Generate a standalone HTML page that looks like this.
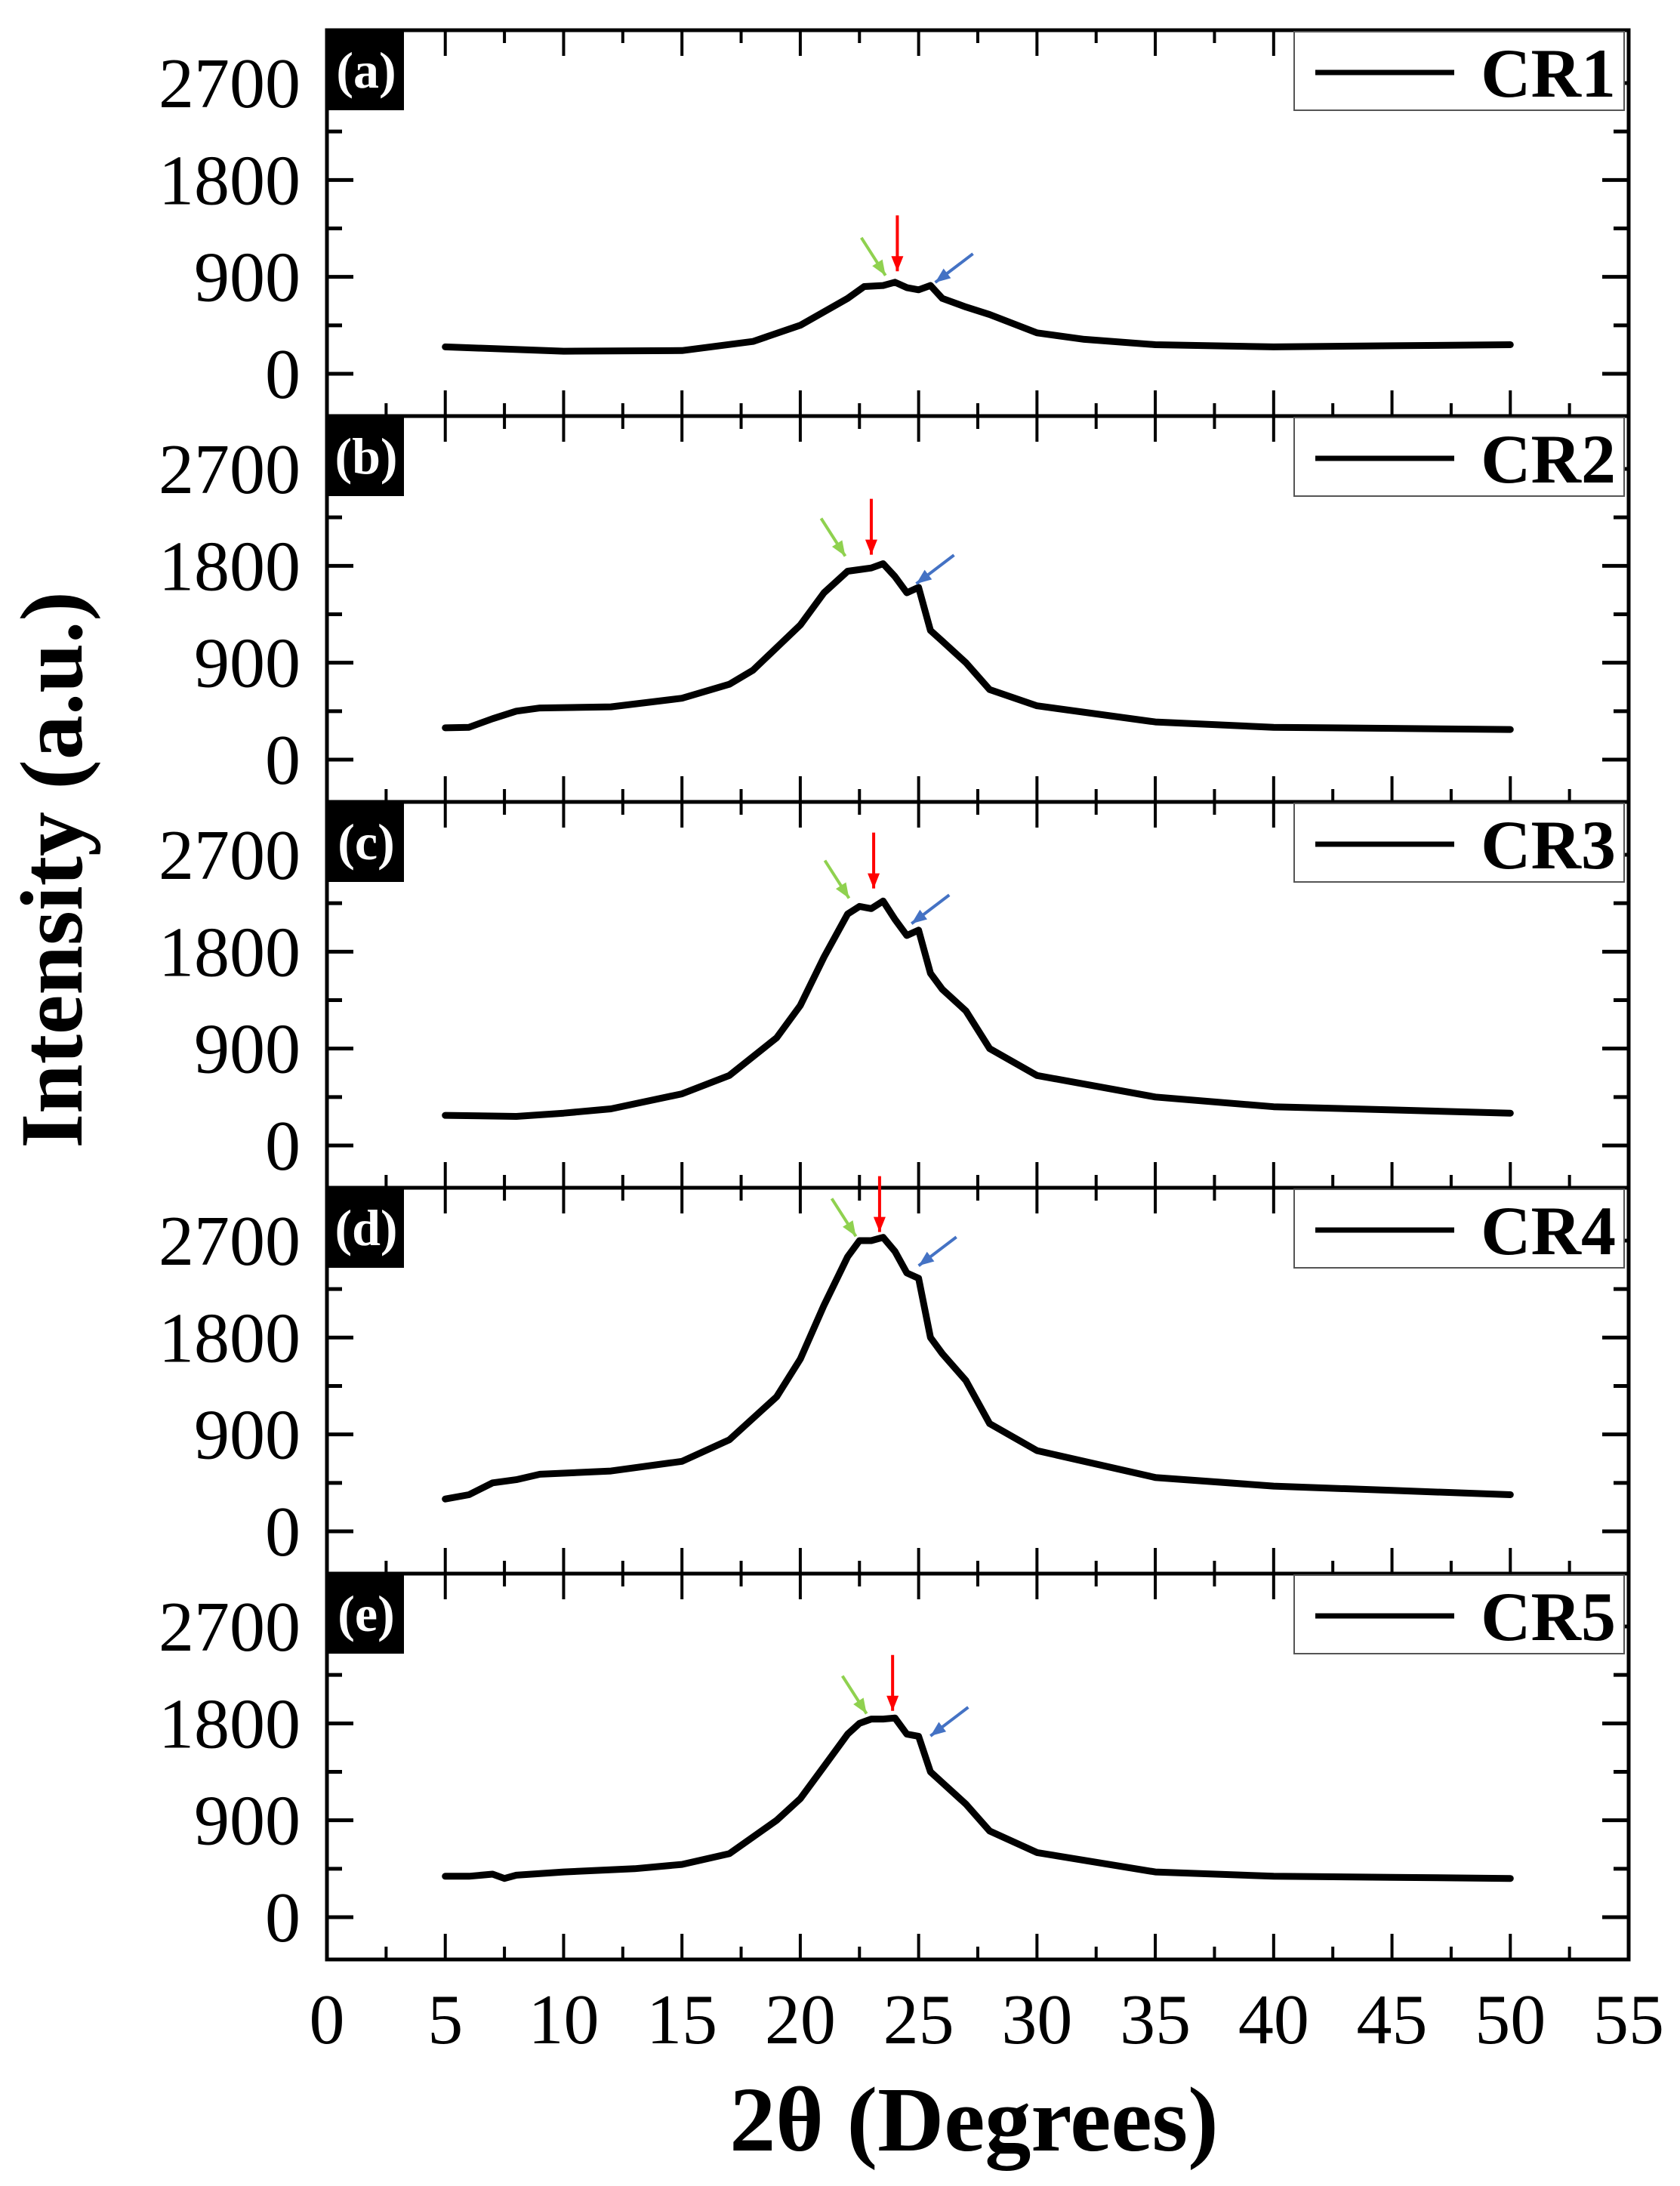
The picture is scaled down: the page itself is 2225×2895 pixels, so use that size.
<!DOCTYPE html>
<html><head><meta charset="utf-8"><style>
html,body{margin:0;padding:0;background:#fff;}
svg{display:block;}
text{font-family:"Liberation Serif",serif;}
</style></head>
<body>
<svg id="chart" width="2225" height="2895" viewBox="0 0 2225 2895" xmlns="http://www.w3.org/2000/svg">
<rect x="0" y="0" width="2225" height="2895" fill="#fff"/>
<text x="0" y="0" transform="translate(108,1152) rotate(-90)" text-anchor="middle" font-size="118" font-weight="bold">Intensity (a.u.)</text>
<text x="1290" y="2848" text-anchor="middle" font-size="122" font-weight="bold">2θ (Degrees)</text>
</svg>
<script>
const NS="http://www.w3.org/2000/svg";
const svg=document.getElementById('chart');
const sampleNames=["CR1","CR2","CR3","CR4","CR5"];
const panelLetters=["(a)","(b)","(c)","(d)","(e)"];
const xTicks=[0,5,10,15,20,25,30,35,40,45,50,55];
const yTicks=[0,900,1800,2700];
const xCR1=[5,10,15,18,20,22,22.7,23.5,24,24.5,25,25.5,26,27,28,30,32,35,40,45,50];
const yCR1=[250,210,215,300,450,700,810,820,850,800,780,820,700,620,550,380,320,270,250,260,270];
const xCR2=[5,6,7,8,9,12,15,17,18,20,21,22,23,23.5,24,24.5,25,25.5,26,27,28,30,35,40,45,50];
const yCR2=[295,300,380,450,480,490,570,700,830,1250,1550,1750,1780,1820,1700,1550,1600,1200,1100,900,650,500,350,300,290,280];
const xCR3=[5,8,10,12,15,17,19,20,21,22,22.5,23,23.5,24,24.5,25,25.5,26,27,28,30,35,40,45,50];
const yCR3=[280,270,300,340,480,650,1000,1300,1750,2150,2220,2200,2270,2100,1950,2000,1600,1450,1250,900,650,450,360,330,300];
const xCR4=[5,6,7,8,9,12,15,17,19,20,21,22,22.5,23,23.5,24,24.5,25,25.5,26,27,28,30,35,40,45,50];
const yCR4=[300,340,450,480,530,560,650,850,1250,1600,2100,2550,2700,2700,2730,2600,2400,2350,1800,1650,1400,1000,750,500,420,380,340];
const xCR5=[5,6,7,7.5,8,10,13,15,17,19,20,21,22,22.5,23,23.5,24,24.5,25,25.5,26,27,28,30,35,40,45,50];
const yCR5=[380,380,400,360,390,420,450,490,590,900,1100,1400,1700,1800,1840,1840,1850,1700,1680,1350,1250,1050,800,600,420,380,370,360];
const seriesX=[xCR1,xCR2,xCR3,xCR4,xCR5];
const seriesY=[yCR1,yCR2,yCR3,yCR4,yCR5];
const greenTipX=[23.6,21.9,22.06,22.35,22.8];
const greenTipY=[913,1890,2296,2740,1890];
const redTipX=[24.1,23.0,23.1,23.35,23.9];
const redTipY=[952,1903,2387,2780,1916];
const blueTipX=[25.7,24.9,24.7,25.0,25.5];
const blueTipY=[848,1633,2060,2467,1683];

const L=433,R=2157,T0=40,PH=511;
function xs(v){return L+v*(R-L)/55;}
function ys(v,i){return T0+i*PH+455-v*385/2700;}
function el(tag,attrs,parent){const e=document.createElementNS(NS,tag);for(const k in attrs)e.setAttribute(k,attrs[k]);(parent||svg).appendChild(e);return e;}

function arrow(tx,ty,dx,dy,color,name){
  const g=el('g',{});
  
  
  el('line',{x1:tx+dx,y1:ty+dy,x2:tx,y2:ty,stroke:color,'stroke-width':4},g);
  const len=Math.hypot(dx,dy),ux=-dx/len,uy=-dy/len;
  const bx=tx-ux*20,by=ty-uy*20,px=-uy*8,py=ux*8;
  el('polygon',{points:`${tx},${ty} ${bx+px},${by+py} ${bx-px},${by-py}`,fill:color},g);
}

for(let i=0;i<5;i++){
  const top=T0+i*PH,bot=top+PH;
  const g=el('g',{});
  
  
  const fr=el('rect',{x:L,y:top,width:R-L,height:PH,fill:'none',stroke:'#000','stroke-width':5},g);
  
  
  for(let v=0;v<=55;v+=2.5){
    const major=(v%5===0);const len=major?34:17;const x=xs(v);
    el('line',{x1:x,y1:bot,x2:x,y2:bot-len,stroke:'#000','stroke-width':4},g);
    el('line',{x1:x,y1:top,x2:x,y2:top+len,stroke:'#000','stroke-width':4},g);
  }
  for(let v=0;v<=2700;v+=450){
    const major=(v%900===0);const len=major?35:20;const y=ys(v,i);
    el('line',{x1:L,y1:y,x2:L+len,y2:y,stroke:'#000','stroke-width':5},g);
    el('line',{x1:R,y1:y,x2:R-len,y2:y,stroke:'#000','stroke-width':5},g);
  }
  yTicks.forEach(v=>{
    const t=el('text',{x:398,y:ys(v,i)+32,'text-anchor':'end','font-size':94},g);
    
    
    t.textContent=v;
  });
  const xsArr=seriesX[i],ysArr=seriesY[i];
  let d='';
  xsArr.forEach((xv,k)=>{d+=(k?'L':'M')+xs(xv).toFixed(1)+','+ys(ysArr[k],i).toFixed(1);});
  const p=el('path',{d:d,fill:'none',stroke:'#000','stroke-width':9,'stroke-linejoin':'round','stroke-linecap':'round'},g);
  
  
  arrow(xs(greenTipX[i]),ys(greenTipY[i],i),-32,-50,'#8fd14f','green-arrow');
  arrow(xs(redTipX[i]),ys(redTipY[i],i),0,-74,'#ff0000','red-arrow');
  arrow(xs(blueTipX[i]),ys(blueTipY[i],i),50,-38,'#4472c4','blue-arrow');
  const lb=el('g',{},g);
  
  
  el('rect',{x:L+2,y:top+2,width:100,height:104,fill:'#000'},lb);
  const lt=el('text',{x:L+52,y:top+76,'text-anchor':'middle','font-size':68,'font-weight':'bold',fill:'#fff'},lb);
  lt.textContent=panelLetters[i];
  const lg=el('g',{},g);
  
  
  el('rect',{x:1714,y:top+2,width:437,height:104,fill:'#fff',stroke:'#555','stroke-width':2},lg);
  el('line',{x1:1742,y1:top+56,x2:1926,y2:top+56,stroke:'#000','stroke-width':7},lg);
  const tt=el('text',{x:2140,y:top+88,'text-anchor':'end','font-size':92,'font-weight':'bold'},lg);
  tt.textContent=sampleNames[i];
}
xTicks.forEach(v=>{
  const t=el('text',{x:xs(v),y:2706,'text-anchor':'middle','font-size':94});
  
  
  t.textContent=v;
});
</script>
</body></html>
